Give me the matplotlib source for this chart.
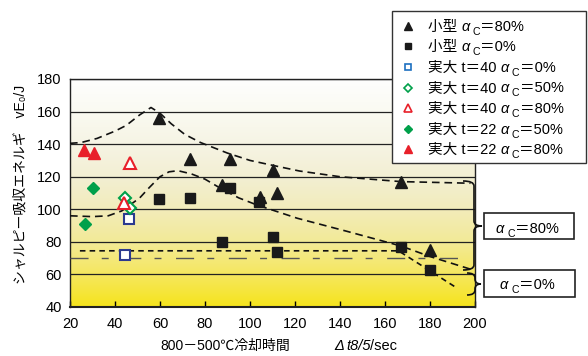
import numpy as np
import matplotlib
matplotlib.use('Agg')
import matplotlib.pyplot as plt
from matplotlib.colors import LinearSegmentedColormap
from matplotlib.path import Path
from matplotlib.patches import PathPatch, Rectangle
from matplotlib.lines import Line2D

plt.rcParams['font.family'] = ['Liberation Sans', 'Noto Sans CJK JP', 'DejaVu Sans']
plt.rcParams['lines.scale_dashes'] = False

W, H = 588, 356

# 小型 αc=80% (black triangles)
small80_x = [59.6, 73.3, 91.1, 110.4, 87.4, 104.4, 112.1, 167.0, 180.0]
small80_y = [155.9, 130.7, 130.7, 124.1, 114.9, 107.8, 110.3, 116.5, 75.0]
# 小型 αc=0% (black squares)
small0_x = [59.6, 73.3, 87.4, 91.1, 104.1, 110.0, 112.1, 167.2, 180.0]
small0_y = [106.1, 107.2, 80.1, 112.9, 104.7, 83.2, 74.0, 76.7, 63.0]
# 実大 t=40
t40_0_x, t40_0_y = [44.4, 46.4], [72.0, 94.0]
t40_50_x, t40_50_y = [44.4, 46.7], [106.8, 100.6]
t40_80_x, t40_80_y = [46.5, 44.1], [128.7, 104.0]
# 実大 t=22
t22_50_x, t22_50_y = [30.4, 26.7], [113.0, 91.0]
t22_80_x, t22_80_y = [26.4, 30.7], [136.5, 134.8]

# dashed trend curves
upper80_x = [20, 25, 32, 40, 45, 51, 56, 60, 65, 71, 78, 90, 100, 110, 122, 140, 167, 198]
upper80_y = [140.5, 141, 143.5, 148, 151.5, 158, 162.5, 159, 152.5, 146, 141, 134.5,
             130, 127, 123.5, 120, 117, 116]
lower80_x = [20, 30, 37, 43, 47, 51, 55, 60, 64, 68, 74, 80, 88, 95, 103, 112, 121,
             143, 167, 180, 198.5]
lower80_y = [96, 95.5, 96, 99, 103, 107, 113, 120, 123, 123.7, 121.7, 118.5, 112, 107,
             102.7, 98.6, 94.5, 86.5, 77.5, 71, 63]
curve0_x = [24.4, 166, 191]
curve0_y = [74.5, 74.5, 52.5]
base0_x = [20, 196]
base0_y = [70, 70]

legend_rows = [
    ('小型 ', '＝80%'),
    ('小型 ', '＝0%'),
    ('実大 t＝40 ', '＝0%'),
    ('実大 t＝40 ', '＝50%'),
    ('実大 t＝40 ', '＝80%'),
    ('実大 t＝22 ', '＝50%'),
    ('実大 t＝22 ', '＝80%'),
]

red = '#e8202a'
green = '#00a04a'
navy = '#2c3a90'
blue = '#1c70c0'

fig = plt.figure(figsize=(W / 100, H / 100), dpi=100)
fig.patch.set_facecolor('white')
ax = fig.add_axes([70 / W, 1 - 307 / H, 405 / W, 228 / H])

# background gradient: yellow at the bottom, white at the top
cmap = LinearSegmentedColormap.from_list('bg', [
    (0.00, '#f6e41c'), (0.14, '#f5e75e'), (0.28, '#f3ea96'), (0.43, '#f2ecbb'),
    (0.57, '#f3efd3'), (0.71, '#f6f4e4'), (0.86, '#fafaf2'), (1.00, '#fefefe')])
ax.imshow(np.linspace(0, 1, 256).reshape(-1, 1), origin='lower', aspect='auto',
          extent=(20, 200, 40, 180), cmap=cmap, zorder=0)

ax.set_xlim(20, 200)
ax.set_ylim(40, 180)
ax.set_xticks(range(20, 201, 20))
ax.set_yticks(range(40, 181, 20))
ax.yaxis.grid(True, color='#222222', lw=0.9)
ax.tick_params(axis='y', length=0, pad=6, labelsize=10.5)
ax.tick_params(axis='x', direction='in', length=4, width=1, pad=7, labelsize=10.5)
for s in ax.spines.values():
    s.set_linewidth(1.0)
    s.set_color('#222222')
ax.spines['bottom'].set_linewidth(1.5)

# trend lines
ax.plot(upper80_x, upper80_y, color='#111111', lw=1.2, dashes=(5.5, 3.5), zorder=3)
ax.plot(lower80_x, lower80_y, color='#111111', lw=1.2, dashes=(5.5, 3.5), zorder=3)
ax.plot(curve0_x, curve0_y, color='#111111', lw=1.2, dashes=(4, 3), zorder=3)
ax.plot(base0_x, base0_y, color='#555555', lw=1.0, dashes=(13, 9.5, 5, 10.5), zorder=3)

# markers
ax.plot(small80_x, small80_y, '^', color='#1a1a1a', ms=8, ls='none', zorder=4)
ax.plot(small0_x, small0_y, 's', color='#1a1a1a', ms=7, ls='none', zorder=4)
ax.plot(t40_0_x, t40_0_y, 's', mfc='white', mec=navy, mew=1.5, ms=7, ls='none', zorder=4)
ax.plot(t40_50_x, t40_50_y, 'D', mfc='white', mec=green, mew=1.5, ms=6, ls='none', zorder=4)
ax.plot(t40_80_x, t40_80_y, '^', mfc='white', mec=red, mew=1.5, ms=8, ls='none', zorder=4)
ax.plot(t22_50_x, t22_50_y, 'D', color=green, ms=6.5, ls='none', zorder=4)
ax.plot(t22_80_x, t22_80_y, '^', color=red, ms=8.5, ls='none', zorder=4)

renderer = fig.canvas.get_renderer()


def fx(x):
    return x / W


def fy(y):
    return 1 - y / H


def rich(x, y, pieces, size):
    # pieces of text placed one after the other on a common baseline (pixels)
    for s, kw in pieces:
        kw = dict(kw)
        dy = kw.pop('dy', 0)
        dx = kw.pop('dx', 0)
        sz = kw.pop('size', size)
        x += dx
        t = fig.text(fx(x), fy(y + dy), s, ha='left', va='baseline', size=sz, **kw)
        x += t.get_window_extent(renderer).width
    return x


def alpha_c(size):
    return [('α', {'style': 'italic'}), ('C', {'size': size * 0.72, 'dy': 4, 'dx': 3})]


# legend
fig.add_artist(Rectangle((fx(392), fy(163)), (586 - 392) / W, (163 - 11) / H,
                         transform=fig.transFigure, facecolor='white',
                         edgecolor='#333333', lw=1.0, zorder=5))
leg_markers = [
    dict(marker='^', color='#1a1a1a', ms=5.5),
    dict(marker='s', color='#1a1a1a', ms=5),
    dict(marker='s', mfc='white', mec=blue, mew=1.2, ms=5),
    dict(marker='D', mfc='white', mec=green, mew=1.2, ms=4.5),
    dict(marker='^', mfc='white', mec=red, mew=1.2, ms=5.5),
    dict(marker='D', color=green, ms=4.5),
    dict(marker='^', color=red, ms=5.5),
]
for i, ((pre, post), mk) in enumerate(zip(legend_rows, leg_markers)):
    base = 30.7 + 20.6 * i
    fig.add_artist(Line2D([fx(408)], [fy(base - 5)], transform=fig.transFigure,
                          ls='none', zorder=6, **mk))
    rich(428, base, [(pre, {})] + alpha_c(10.5) + [(post, {})], 10.5)
for t in fig.texts:
    t.set_zorder(6)

# label boxes on the right
for (x0, y0, x1, y1), txt, base in [((484, 213, 574, 239), '＝80%', 232.7),
                                      ((484, 270, 575, 297), '＝0%', 289.3)]:
    fig.add_artist(Rectangle((fx(x0), fy(y1)), (x1 - x0) / W, (y1 - y0) / H,
                             transform=fig.transFigure, facecolor='white',
                             edgecolor='#222222', lw=1.2))
    rich(496 if txt == '＝80%' else 500, base, alpha_c(10.5) + [(txt, {})], 10.5)


# curly braces
def brace(x_end, x_line, x_tip, y_top, y_bot, y_mid):
    r = 5
    verts = [(x_end, y_top), (x_line, y_top), (x_line, y_top + r),
             (x_line, y_mid - r), (x_line, y_mid), (x_tip, y_mid),
             (x_line, y_mid), (x_line, y_mid + r),
             (x_line, y_bot - r), (x_line, y_bot), (x_end, y_bot)]
    codes = [Path.MOVETO, Path.CURVE3, Path.CURVE3, Path.LINETO, Path.CURVE3, Path.CURVE3,
             Path.CURVE3, Path.CURVE3, Path.LINETO, Path.CURVE3, Path.CURVE3]
    p = Path([(fx(a), fy(b)) for a, b in verts], codes)
    fig.add_artist(PathPatch(p, transform=fig.transFigure, fill=False,
                             edgecolor='#111111', lw=1.2))


brace(463, 474, 482, 181, 270, 226)
brace(467, 475, 481, 273, 295, 284)

# axis labels
rich(160, 350, [('800－500℃冷却時間', {})], 10)
rich(334, 350, [('Δ', {'style': 'italic'}), ('t8/5', {'style': 'italic', 'dx': 2}),
                ('/sec', {})], 10.5)
fig.text(fx(21), fy(184), 'シャルピー吸収エネルギ　vE₀/J', rotation=90,
         ha='center', va='center', size=10)

fig.savefig('out.png', dpi=100)
